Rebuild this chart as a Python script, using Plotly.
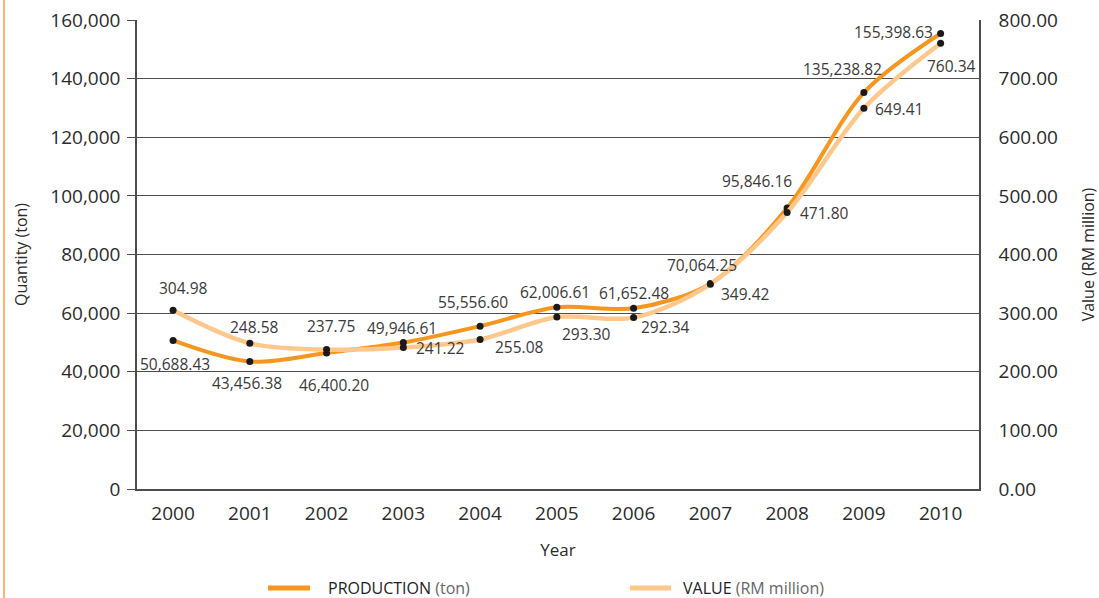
import plotly.graph_objects as go

years = [2000, 2001, 2002, 2003, 2004, 2005, 2006, 2007, 2008, 2009, 2010]
production_ton = [50688.43, 43456.38, 46400.20, 49946.61, 55556.60, 62006.61,
                  61652.48, 70064.25, 95846.16, 135238.82, 155398.63]
value_rm_million = [304.98, 248.58, 237.75, 241.22, 255.08, 293.30,
                    292.34, 349.42, 471.80, 649.41, 760.34]
year_labels = [str(y) for y in years]
left_ticks = [0, 20000, 40000, 60000, 80000, 100000, 120000, 140000, 160000]
right_ticks = [0, 100, 200, 300, 400, 500, 600, 700, 800]

# label offsets (pixels) relative to each dot
prod_offsets = [(2, -24), (-3, -21), (7, -32), (-1, 15), (-7, 24), (-2, 15),
                (0, 15), (-8, 19), (-30, 27), (-21, 24), (-47, 1)]
val_offsets = [(10, 22), (5, 16), (4, 24), (37, 0), (39, -8), (30, -17),
               (32, -9), (35, -10), (37, -1), (35, -1), (11, -23)]

PROD_COLOR = "#F7961E"
VAL_COLOR = "#FEC88C"
GRID = "#4d4d4d"
TXT = "#2b2b2b"
FONT = "Open Sans"
DOT = dict(color="#1a1a1a", size=7)

W, H = 1099, 598
ML, MR, MT, MB = 137, 120, 20, 109
PW, PH = W - ML - MR, H - MT - MB


def px(x):
    return (x - ML) / PW


def py(y):
    return (H - MB - y) / PH


fig = go.Figure()
fig.add_trace(go.Scatter(
    x=years, y=value_rm_million, yaxis="y2", mode="lines",
    name="VALUE (RM million)", showlegend=False,
    line=dict(color=VAL_COLOR, width=4.5, shape="spline", smoothing=0.9)))
fig.add_trace(go.Scatter(
    x=years, y=value_rm_million, yaxis="y2", mode="markers",
    marker=DOT, showlegend=False))
fig.add_trace(go.Scatter(
    x=years, y=production_ton, yaxis="y", mode="lines",
    name="PRODUCTION (ton)", showlegend=False,
    line=dict(color=PROD_COLOR, width=4, shape="spline", smoothing=0.9)))
fig.add_trace(go.Scatter(
    x=years, y=production_ton, yaxis="y", mode="markers",
    marker=DOT, showlegend=False))

annotations = []
for x, y, (dx, dy) in zip(years, production_ton, prod_offsets):
    annotations.append(dict(x=x, y=y, xref="x", yref="y", text=f"{y:,.2f}",
                            showarrow=False, xshift=dx, yshift=dy,
                            font=dict(family=FONT, size=15.5, color="#3a3a3a")))
for x, y, (dx, dy) in zip(years, value_rm_million, val_offsets):
    annotations.append(dict(x=x, y=y, xref="x", yref="y2", text=f"{y:,.2f}",
                            showarrow=False, xshift=dx, yshift=dy,
                            font=dict(family=FONT, size=15.5, color="#3a3a3a")))

# legend (drawn as swatches + text)
legend_items = [("PRODUCTION", "(ton)", PROD_COLOR, 268, 310, 326),
                ("VALUE", "(RM million)", VAL_COLOR, 630, 671, 681)]
shapes = [dict(type="line", xref="paper", yref="paper", x0=px(4), x1=px(4),
               y0=py(H + 5), y1=py(-5), line=dict(color="#F7A035", width=1.5))]
for main, unit, col, x0, x1, xt in legend_items:
    shapes.append(dict(type="line", xref="paper", yref="paper",
                       x0=px(x0), x1=px(x1), y0=py(588), y1=py(588),
                       line=dict(color=col, width=5)))
    annotations.append(dict(xref="paper", yref="paper", x=px(xt), y=py(588),
                            xanchor="left", yanchor="middle", showarrow=False,
                            text=f"{main} <span style='color:#666'>{unit}</span>",
                            font=dict(family=FONT, size=16, color="#222")))

fig.update_layout(
    width=W, height=H,
    margin=dict(l=ML, r=MR, t=MT, b=MB),
    paper_bgcolor="white", plot_bgcolor="white",
    showlegend=False,
    font=dict(family=FONT, size=19, color=TXT),
    xaxis=dict(range=[1999.53, 2010.5], tickvals=years, ticktext=year_labels,
               showgrid=False, zeroline=False, showline=True, linecolor=GRID,
               linewidth=1.5, ticks="outside", ticklen=6, automargin=False,
               tickcolor="rgba(0,0,0,0)", tickfont=dict(size=19),
               title=dict(text="Year", standoff=20, font=dict(size=17))),
    yaxis=dict(range=[0, 160000], tickvals=left_ticks, tickformat=",",
               showgrid=True, gridcolor=GRID, gridwidth=1.3, zeroline=False,
               showline=True, linecolor=GRID, linewidth=1.5, automargin=False,
               ticks="outside", ticklen=8, tickcolor=GRID, tickwidth=1.3,
               ticklabelstandoff=3, tickfont=dict(size=19),
               title=dict(text="Quantity (ton)", standoff=19, font=dict(size=16))),
    yaxis2=dict(range=[0, 800], tickvals=right_ticks, tickformat=".2f",
                overlaying="y", side="right", showgrid=False, zeroline=False,
                showline=True, linecolor=GRID, linewidth=1.5, automargin=False,
                ticks="outside", ticklen=14, tickcolor="rgba(0,0,0,0)",
                tickfont=dict(size=19),
                title=dict(text="Value (RM million)", standoff=27, font=dict(size=16))),
    annotations=annotations,
    shapes=shapes,
)

fig.write_html("out.html",
               config={"displayModeBar": False},
               post_script="document.body.style.margin='0px';"
                           "document.body.style.overflow='hidden';")
